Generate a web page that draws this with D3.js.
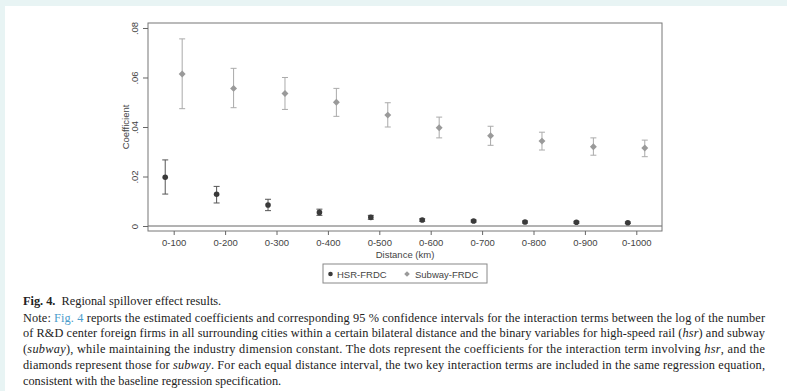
<!DOCTYPE html>
<html>
<head>
<meta charset="utf-8">
<script src="https://cdn.jsdelivr.net/npm/d3@7"></script>
<style>
  body { margin: 0; background: #fff; }
  svg { display: block; }
</style>
</head>
<body>
<div id="chart"></div>
<script>
// distance bands
const categories = ["0-100", "0-200", "0-300", "0-400", "0-500", "0-600", "0-700", "0-800", "0-900", "0-1000"];
// HSR-FRDC coefficients and 95% CI
const hsrCoef = [0.0197, 0.0128, 0.0085, 0.0055, 0.0035, 0.0024, 0.0020, 0.0016, 0.0015, 0.0013];
const hsrLow  = [0.0129, 0.0093, 0.0062, 0.0043, 0.0027, 0.0019, 0.0016, 0.0012, 0.0011, 0.0010];
const hsrHigh = [0.0267, 0.0160, 0.0108, 0.0068, 0.0043, 0.0029, 0.0024, 0.0020, 0.0019, 0.0016];
// Subway-FRDC coefficients and 95% CI
const subCoef = [0.0614, 0.0556, 0.0535, 0.0500, 0.0448, 0.0397, 0.0365, 0.0343, 0.0320, 0.0315];
const subLow  = [0.0474, 0.0478, 0.0471, 0.0443, 0.0400, 0.0356, 0.0326, 0.0307, 0.0286, 0.0280];
const subHigh = [0.0756, 0.0637, 0.0600, 0.0556, 0.0498, 0.0440, 0.0403, 0.0379, 0.0356, 0.0347];
const yTicks = [0, 0.02, 0.04, 0.06, 0.08];
const seriesNames = ["HSR-FRDC", "Subway-FRDC"];

const width = 787, height = 391;
const svg = d3.select("#chart").append("svg").attr("width", width).attr("height", height);

// page edge tint
svg.append("rect").attr("x", 0).attr("y", 0).attr("width", width).attr("height", 6).attr("fill", "#e8f4f4");
svg.append("rect").attr("x", 0).attr("y", 0).attr("width", 5).attr("height", height).attr("fill", "#e8f4f4");

const plot = {left: 148, right: 662, top: 23, bottom: 231};
const x = d3.scaleLinear().domain([0.5, 10.5]).range([plot.left, plot.right]);
const y = d3.scaleLinear().domain([-0.00202, 0.08202]).range([plot.bottom, plot.top]);
const off = 0.165;
const font = "'Liberation Sans', Arial, sans-serif";

// zero reference line
svg.append("line")
    .attr("x1", plot.left).attr("x2", plot.right)
    .attr("y1", y(0)).attr("y2", y(0))
    .attr("stroke", "#666").attr("stroke-width", 1);

// frame
svg.append("rect")
    .attr("x", plot.left).attr("y", plot.top)
    .attr("width", plot.right - plot.left).attr("height", plot.bottom - plot.top)
    .attr("fill", "none").attr("stroke", "#777").attr("stroke-width", 1);

// y axis
const yAxis = svg.append("g")
    .attr("transform", `translate(${plot.left},0)`)
    .call(d3.axisLeft(y).tickValues(yTicks).tickSize(5)
        .tickFormat(d => d === 0 ? "0" : d3.format(".2f")(d).replace(/^0/, "")));
yAxis.select(".domain").remove();
yAxis.selectAll("line").attr("stroke", "#666");
yAxis.selectAll("text")
    .attr("x", 0).attr("dy", 0)
    .attr("transform", "translate(-10,0) rotate(-90)")
    .attr("text-anchor", "middle")
    .attr("fill", "#444")
    .style("font", `9.5px ${font}`);

svg.append("text")
    .attr("transform", `translate(129,${(plot.top + plot.bottom) / 2}) rotate(-90)`)
    .attr("text-anchor", "middle")
    .attr("fill", "#444")
    .style("font", `9.5px ${font}`)
    .text("Coefficient");

// x axis
const xAxis = svg.append("g")
    .attr("transform", `translate(0,${plot.bottom})`)
    .call(d3.axisBottom(x).tickValues(d3.range(1, 11)).tickSize(4).tickPadding(4)
        .tickFormat((d, i) => categories[i]));
xAxis.select(".domain").remove();
xAxis.selectAll("line").attr("stroke", "#666");
xAxis.selectAll("text").attr("fill", "#444").style("font", `9.5px ${font}`);

svg.append("text")
    .attr("x", (plot.left + plot.right) / 2).attr("y", 258)
    .attr("text-anchor", "middle")
    .attr("fill", "#444")
    .style("font", `9.5px ${font}`)
    .text("Distance (km)");

// error bars + markers
function drawSeries(coef, lo, hi, shift, color, barColor, shape) {
    const g = svg.append("g");
    const data = coef.map((c, i) => ({i: i + 1, c, lo: lo[i], hi: hi[i]}));
    const bars = g.selectAll("g.bar").data(data).join("g").attr("class", "bar");
    bars.append("line")
        .attr("x1", d => x(d.i + shift)).attr("x2", d => x(d.i + shift))
        .attr("y1", d => y(d.lo)).attr("y2", d => y(d.hi))
        .attr("stroke", barColor).attr("stroke-width", 1);
    [d => d.lo, d => d.hi].forEach(acc => {
        bars.append("line")
            .attr("x1", d => x(d.i + shift) - 3).attr("x2", d => x(d.i + shift) + 3)
            .attr("y1", d => y(acc(d))).attr("y2", d => y(acc(d)))
            .attr("stroke", barColor).attr("stroke-width", 1);
    });
    if (shape === "circle") {
        g.selectAll("circle").data(data).join("circle")
            .attr("cx", d => x(d.i + shift)).attr("cy", d => y(d.c))
            .attr("r", 2.8).attr("fill", color);
    } else {
        g.selectAll("path.mk").data(data).join("path").attr("class", "mk")
            .attr("d", d3.symbol(d3.symbolSquare, 24)())
            .attr("transform", d => `translate(${x(d.i + shift)},${y(d.c)}) rotate(45)`)
            .attr("fill", color);
    }
}
drawSeries(hsrCoef, hsrLow, hsrHigh, -off, "#3a3a3a", "#555", "circle");
drawSeries(subCoef, subLow, subHigh, off, "#9a9a9a", "#aaa", "diamond");

// legend
const lg = svg.append("g");
lg.append("rect").attr("x", 323).attr("y", 264).attr("width", 164).attr("height", 19)
    .attr("fill", "#fff").attr("stroke", "#888").attr("stroke-width", 1);
lg.append("circle").attr("cx", 330.5).attr("cy", 274).attr("r", 2.3).attr("fill", "#3a3a3a");
lg.append("text").attr("x", 337).attr("y", 277.5).attr("fill", "#444")
    .style("font", `9.5px ${font}`).text(seriesNames[0]);
lg.append("path").attr("d", d3.symbol(d3.symbolSquare, 16)())
    .attr("transform", "translate(407,274) rotate(45)").attr("fill", "#9a9a9a");
lg.append("text").attr("x", 415).attr("y", 277.5).attr("fill", "#444")
    .style("font", `9.5px ${font}`).text(seriesNames[1]);

// caption
const serif = "'Liberation Serif', 'DejaVu Serif', serif";
const capX = 23, capRight = 765;
const cap = svg.append("g").attr("fill", "#222").style("font", `12.3px ${serif}`);
const t0 = cap.append("text").attr("x", capX).attr("y", 305);
t0.append("tspan").attr("font-weight", "bold").text("Fig. 4.");
t0.append("tspan").text("\u00a0 Regional spillover effect results.");

const lines = [
    [["Note: "], ["Fig. 4", "link"], [" reports the estimated coefficients and corresponding 95 % confidence intervals for the interaction terms between the log of the number"]],
    [["of R&D center foreign firms in all surrounding cities within a certain bilateral distance and the binary variables for high-speed rail ("], ["hsr", "i"], [") and subway"]],
    [["("], ["subway", "i"], ["), while maintaining the industry dimension constant. The dots represent the coefficients for the interaction term involving "], ["hsr", "i"], [", and the"]],
    [["diamonds represent those for "], ["subway", "i"], [". For each equal distance interval, the two key interaction terms are included in the same regression equation,"]],
    [["consistent with the baseline regression specification."]]
];
lines.forEach((parts, k) => {
    const t = cap.append("text").attr("x", capX).attr("y", 321.5 + k * 15.8);
    if (k < lines.length - 1) {
        t.attr("textLength", capRight - capX).attr("lengthAdjust", "spacing");
    }
    parts.forEach(([s, st]) => {
        const sp = t.append("tspan").text(s);
        if (st === "i") sp.attr("font-style", "italic");
        if (st === "link") sp.attr("fill", "#4a9ccc");
    });
});
</script>
</body>
</html>
